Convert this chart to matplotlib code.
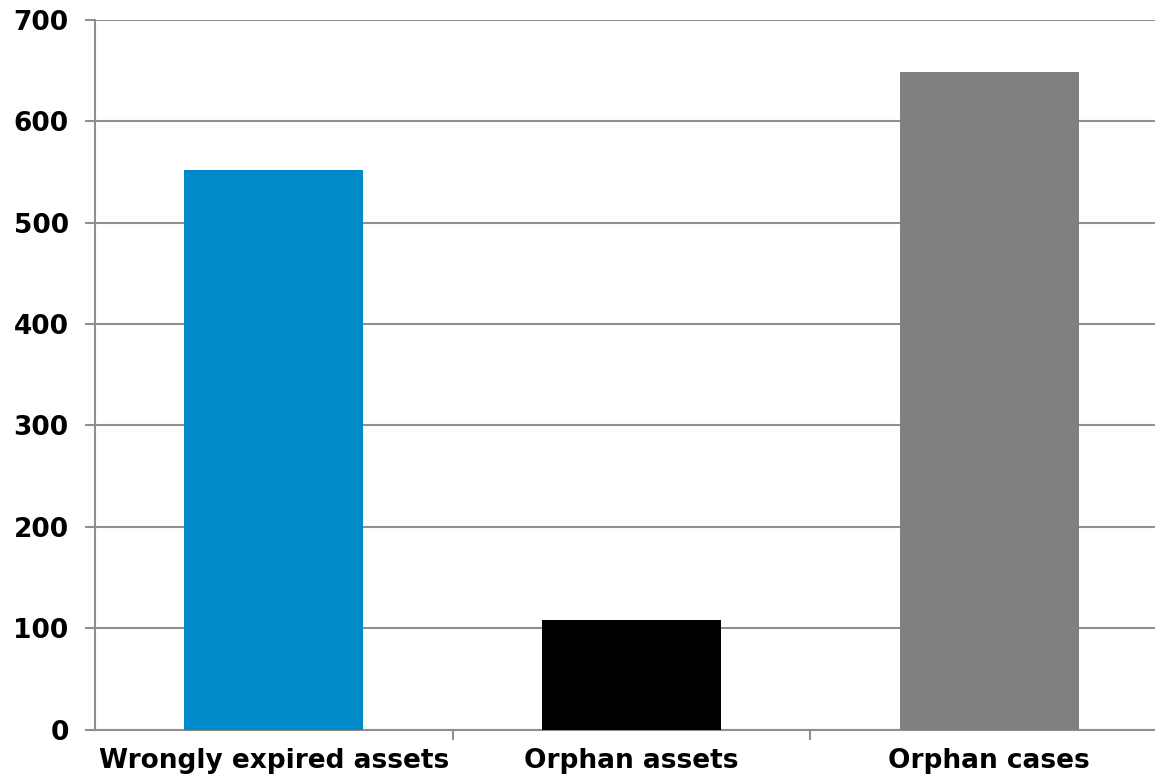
import matplotlib
matplotlib.use('Agg')
from matplotlib import pyplot as plt

categories = ['Wrongly expired assets', 'Orphan assets', 'Orphan cases']
counts = [552, 108, 649]
colors = ['#008ac9', '#000000', '#808080']

GRID = '#8f8f8f'

fig = plt.figure(figsize=(11.55, 7.82), dpi=100)
# the plot area runs a little past the right edge, as in the original
ax = fig.add_axes([0.0823, 0.0671, 0.929, 0.9073])

ax.set_axisbelow(True)
ax.yaxis.grid(True, color=GRID, linewidth=1.5)
ax.bar(range(len(categories)), counts, width=0.5, color=colors, zorder=3)

ax.set_xlim(-0.5, len(categories) - 0.5)
ax.set_ylim(0, 700)
ax.set_yticks(range(0, 701, 100))

ax.set_xticks(range(len(categories)))
ax.set_xticklabels(categories)
ax.set_xticks([0.5, 1.5], minor=True)
ax.tick_params(axis='x', which='major', length=0, pad=13)
ax.tick_params(axis='x', which='minor', length=7, width=1.5, color=GRID, direction='out')
ax.tick_params(axis='y', length=7, width=1.5, color=GRID, pad=12)

for lbl in ax.get_xticklabels() + ax.get_yticklabels():
    lbl.set_fontsize(19)
    lbl.set_fontweight('bold')

for side in ['top', 'right']:
    ax.spines[side].set_visible(False)
for side in ['left', 'bottom']:
    ax.spines[side].set_color(GRID)
    ax.spines[side].set_linewidth(1.5)

fig.savefig('out.png', dpi=100)
